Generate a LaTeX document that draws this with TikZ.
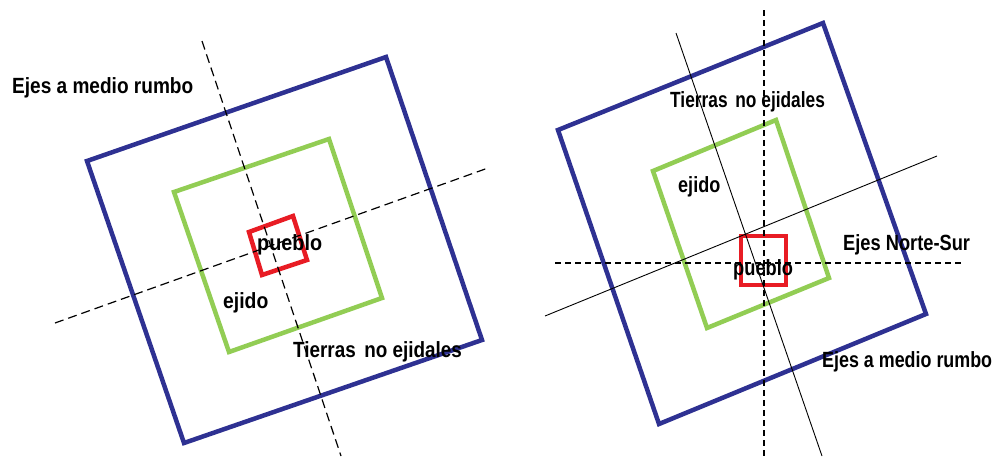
\documentclass[tikz,border=0pt]{standalone}
\usepackage{fontspec}
\setmainfont{Liberation Sans}
\newfontfamily\lblfamily{Liberation Sans}
\definecolor{zoneblue}{RGB}{46,49,146}
\definecolor{zonegreen}{RGB}{146,205,84}
\definecolor{zonered}{RGB}{232,28,36}
\begin{document}
\begin{tikzpicture}[x=1pt,y=-1pt,
  outerzone/.style={draw=zoneblue,line width=4.5pt,line join=miter},
  midzone/.style={draw=zonegreen,line width=4.5pt,line join=miter},
  townzone/.style={draw=zonered,line width=4.5pt,line join=miter},
  axisdash/.style={draw=black,line width=1.2pt,dash pattern=on 9pt off 5pt},
  axisdashfine/.style={draw=black,line width=1.2pt,dash pattern=on 6pt off 4pt},
  axissolid/.style={draw=black,line width=0.9pt},
  lbl/.style={font=\lblfamily\bfseries\fontsize{22}{22}\selectfont,inner sep=0pt,anchor=base west,text=black}]
\useasboundingbox (0,0) rectangle (994,456);
% ---------- left diagram ----------
\coordinate (lb1) at (87,161); \coordinate (lb2) at (386,57);
\coordinate (lb3) at (482,340); \coordinate (lb4) at (184,443);
\coordinate (lg1) at (174,192); \coordinate (lg2) at (329,139);
\coordinate (lg3) at (382,298); \coordinate (lg4) at (229,352);
\coordinate (lr1) at (249,232); \coordinate (lr2) at (293,216);
\coordinate (lr3) at (307,260); \coordinate (lr4) at (262,275);
\draw[outerzone] (lb1) -- (lb2) -- (lb3) -- (lb4) -- cycle;
\draw[midzone] (lg1) -- (lg2) -- (lg3) -- (lg4) -- cycle;
\draw[townzone] (lr1) -- (lr2) -- (lr3) -- (lr4) -- cycle;
\coordinate (la1) at (202,41); \coordinate (la2) at (341,456);
\coordinate (la3) at (55,323); \coordinate (la4) at (488,168);
\draw[axisdash] (la1) -- (la2);
\draw[axisdash] (la3) -- (la4);
\node[lbl] (lt1) at (12,93) {\scalebox{0.866}[1]{Ejes a medio rumbo}};
\node[lbl] (lt2) at (293,357) {\scalebox{0.858}[1]{Tierras\hspace{0.45em}no ejidales}};
\node[lbl] (lt3) at (257,250) {\scalebox{0.90}[1]{pueblo}};
\node[lbl] (lt4) at (223,308) {\scalebox{0.88}[1]{ejido}};
% ---------- right diagram ----------
\coordinate (rb1) at (558,130); \coordinate (rb2) at (823,23);
\coordinate (rb3) at (926,314); \coordinate (rb4) at (659,424);
\coordinate (rg1) at (653,171); \coordinate (rg2) at (776,120);
\coordinate (rg3) at (829,278); \coordinate (rg4) at (707,328);
\draw[outerzone] (rb1) -- (rb2) -- (rb3) -- (rb4) -- cycle;
\draw[midzone] (rg1) -- (rg2) -- (rg3) -- (rg4) -- cycle;
\draw[townzone] (741,236) rectangle (786,285);
\coordinate (rv1) at (764,10); \coordinate (rv2) at (764,456);
\coordinate (rh1) at (555,263); \coordinate (rh2) at (962,263);
\coordinate (rs1) at (676,33); \coordinate (rs2) at (822,456);
\coordinate (rs3) at (545,316); \coordinate (rs4) at (937,156);
\draw[axisdashfine] (rv1) -- (rv2);
\draw[axisdashfine] (rh1) -- (rh2);
\draw[axissolid] (rs1) -- (rs2);
\draw[axissolid] (rs3) -- (rs4);
\node[lbl] (rt1) at (670,107) {\scalebox{0.787}[1]{Tierras\hspace{0.45em}no ejidales}};
\node[lbl] (rt2) at (678,192) {\scalebox{0.82}[1]{ejido}};
\node[lbl] (rt3) at (843,250) {\scalebox{0.83}[1]{Ejes Norte-Sur}};
\node[lbl] (rt4) at (733,275) {\scalebox{0.83}[1]{pueblo}};
\node[lbl] (rt5) at (822,367) {\scalebox{0.813}[1]{Ejes a medio rumbo}};
\end{tikzpicture}
\end{document}
